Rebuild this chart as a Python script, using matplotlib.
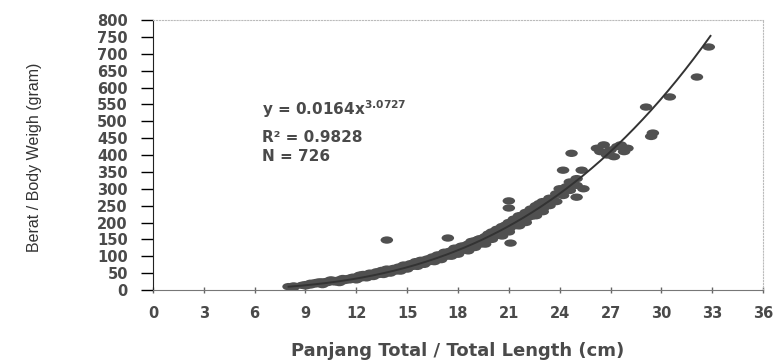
import matplotlib.pyplot as plt
from matplotlib.markers import MarkerStyle
from matplotlib.transforms import Affine2D
import numpy as np

plt.rcParams['figure.dpi'] = 100
plt.rcParams['font.family'] = ['DejaVu Sans']

# total length (cm) and body weight (gram)
length_cm = [8.0, 8.3, 8.3, 8.8, 9.0, 9.0, 9.3, 9.3, 9.6, 9.6,
             10.0, 10.0, 10.0, 10.3, 10.3, 10.7, 10.7, 11.0, 11.0, 11.0,
             11.3, 11.3, 11.6, 11.6, 12.0, 12.0, 12.0, 12.3, 12.3, 12.6,
             12.6, 12.6, 13.0, 13.0, 13.0, 13.3, 13.3, 13.6, 13.6, 13.6,
             14.0, 14.0, 14.0, 14.3, 14.3, 14.6, 14.6, 14.6, 15.0, 15.0,
             15.0, 15.3, 15.3, 15.6, 15.6, 15.6, 16.0, 16.0, 16.0, 16.3,
             16.3, 16.6, 16.6, 16.6, 17.0, 17.0, 17.0, 17.3, 17.3, 17.6,
             17.6, 17.6, 18.0, 18.0, 18.0, 18.3, 18.3, 18.6, 18.6, 18.6,
             19.0, 19.0, 19.0, 19.3, 19.3, 19.6, 19.6, 19.6, 20.0, 20.0,
             20.0, 20.3, 20.3, 20.6, 20.6, 20.6, 21.0, 21.0, 21.0, 21.3,
             21.3, 21.6, 21.6, 21.6, 22.0, 22.0, 22.0, 22.3, 22.3, 22.6,
             22.6, 22.6, 23.0, 23.0, 23.0, 23.4, 23.4, 23.8, 23.8, 24.2,
             24.2, 24.6, 24.6, 25.0, 25.0,
             9.8, 10.5, 11.2, 11.8, 12.2, 12.8, 13.2, 13.8, 14.2, 14.8,
             15.2, 15.8, 16.2, 16.8, 17.2, 17.8, 18.2, 18.8, 19.2, 19.8,
             20.2, 20.8, 21.2, 21.8, 22.2, 22.8, 23.2, 23.6, 24.0, 24.4,
             12.4, 13.5, 14.5, 15.5, 16.5, 17.5, 18.5, 19.5, 20.5, 21.5,
             13.8, 17.4, 21.0, 21.0, 21.1, 24.2, 25.3, 24.7, 25.0, 25.4,
             26.2, 26.6, 27.0, 27.4, 27.8, 27.2, 26.8, 28.0, 26.4, 27.6,
             29.1, 29.5, 29.4, 30.5, 32.1, 32.8]
weight_g = [10, 8, 12, 14, 16, 12, 20, 15, 18, 22,
            20, 24, 16, 22, 26, 24, 28, 26, 30, 22,
            32, 28, 30, 35, 34, 38, 30, 36, 42, 40,
            45, 36, 44, 48, 40, 46, 52, 50, 55, 46,
            54, 58, 50, 56, 62, 60, 66, 56, 66, 72,
            62, 70, 76, 74, 80, 70, 80, 88, 76, 84,
            92, 88, 96, 84, 96, 104, 90, 100, 110, 106,
            116, 100, 112, 124, 106, 118, 130, 122, 136, 116,
            132, 146, 126, 136, 152, 142, 158, 136, 156, 172,
            150, 162, 180, 170, 188, 160, 180, 200, 172, 190,
            210, 198, 220, 190, 210, 230, 200, 218, 240, 228,
            250, 220, 240, 262, 232, 250, 272, 262, 285, 280,
            300, 295, 320, 310, 330,
            24, 30, 34, 38, 44, 50, 54, 62, 64, 74,
            78, 88, 92, 104, 112, 124, 130, 144, 150, 166,
            174, 192, 202, 222, 232, 256, 262, 268, 300, 306,
            46, 58, 68, 84, 98, 114, 132, 150, 176, 206,
            148, 154, 264, 243, 139, 355, 355, 405, 275, 300,
            420, 430, 415, 425, 410, 395, 400, 420, 410, 430,
            542, 465, 455, 572, 631, 720]

# power fit shown on the chart
fit_a = 0.0164
fit_b = 3.0727
fit_range = [8.0, 32.9]

text_col = '#4a4a4a'
fig = plt.figure(figsize=(7.77, 3.63))
ax = fig.add_axes([0.1969, 0.2011, 0.7851, 0.7438])

ell = MarkerStyle('o', transform=Affine2D().scale(1.7, 1.0))
ax.scatter(length_cm, weight_g, s=28, marker=ell, color='#505050',
           edgecolors='none', zorder=2)

xf = np.linspace(fit_range[0], fit_range[1], 200)
ax.plot(xf, fit_a * xf ** fit_b, color='#333333', linewidth=1.4, zorder=3)

ax.set_xlim(0, 36)
ax.set_ylim(0, 800)
ax.set_xticks(range(0, 37, 3))
ax.set_yticks(range(0, 801, 50))

ax.tick_params(axis='y', direction='out', length=9, width=1, pad=9,
               labelsize=10.5, labelcolor=text_col)
ax.tick_params(axis='x', direction='inout', length=5, width=1, pad=9,
               labelsize=10.5, labelcolor=text_col, colors='#666666')
for lab in ax.get_xticklabels() + ax.get_yticklabels():
    lab.set_fontweight('bold')
    lab.set_color(text_col)

ax.spines['left'].set_color('#222222')
ax.spines['bottom'].set_color('#777777')
for side in ['top', 'right']:
    ax.spines[side].set_color('#bbbbbb')
    ax.spines[side].set_linestyle(':')
    ax.spines[side].set_linewidth(0.8)

ax.set_xlabel('Panjang Total / Total Length (cm)', fontsize=13,
              fontweight='bold', color=text_col, labelpad=15)
ax.set_ylabel('Berat / Body Weigh (gram)', fontsize=11.5, color='#333333',
              family=['Liberation Sans', 'DejaVu Sans'])
ax.yaxis.set_label_coords(-0.182, 0.49)

plt.rcParams['mathtext.default'] = 'bf'
ax.text(0.179, 0.67, 'y = 0.0164x$^{3.0727}$', transform=ax.transAxes,
        fontsize=11, fontweight='bold', color=text_col, va='center')
ax.text(0.179, 0.565, 'R² = 0.9828', transform=ax.transAxes,
        fontsize=11, fontweight='bold', color=text_col, va='center')
ax.text(0.179, 0.493, 'N = 726', transform=ax.transAxes,
        fontsize=11, fontweight='bold', color=text_col, va='center')

plt.savefig('out.png', dpi=100)
